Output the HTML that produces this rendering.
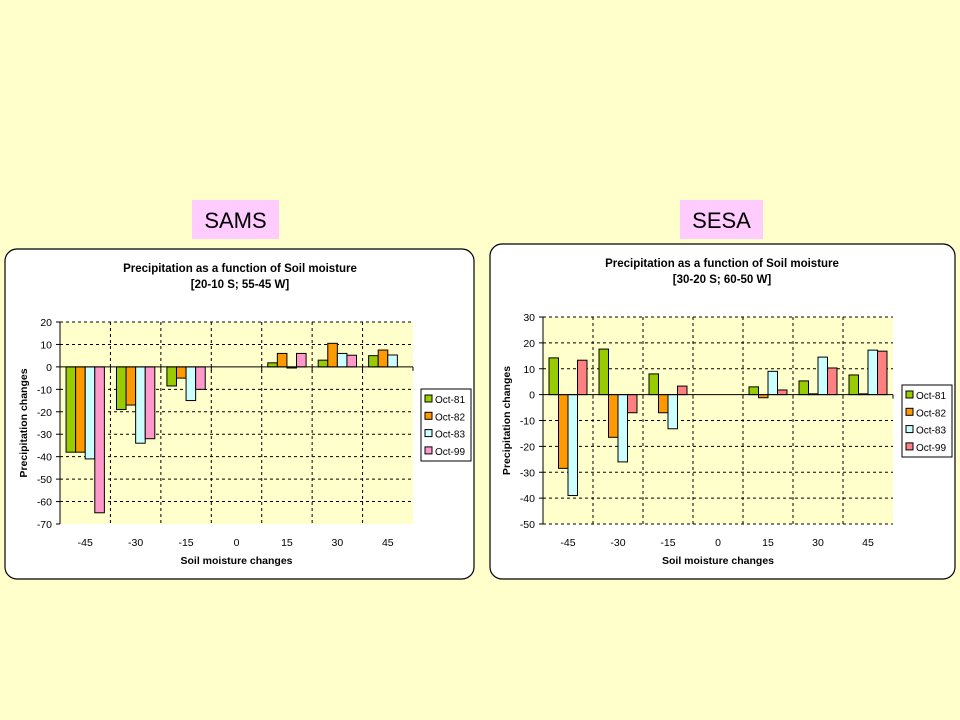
<!DOCTYPE html>
<html><head><meta charset="utf-8"><style>
html,body{margin:0;padding:0;background:#FFFFCC;}
svg{display:block;font-family:"Liberation Sans",Arial,sans-serif;}
</style></head><body>
<svg id="s" width="960" height="720" viewBox="0 0 960 720">
<rect x="0" y="0" width="960" height="720" fill="#FFFFCC"/>
<rect x="192" y="200" width="87" height="39" fill="#FFCCFF"/>
<text x="235.5" y="228" font-size="22" text-anchor="middle">SAMS</text>
<rect x="680" y="200" width="83" height="39" fill="#FFCCFF"/>
<text x="721.5" y="228" font-size="22" text-anchor="middle">SESA</text>
</svg>
<script>
const categories = ["-45","-30","-15","0","15","30","45"];
const seriesNames = ["Oct-81","Oct-82","Oct-83","Oct-99"];
const samsOct81 = [-38,-19,-8.5,0,1.8,3,5];
const samsOct82 = [-38,-17,-5,0,6,10.5,7.5];
const samsOct83 = [-41,-34,-15,0,-0.5,6,5.3];
const samsOct99 = [-65,-32,-10,0,6,5.2,0];
const samsTicks = [20,10,0,-10,-20,-30,-40,-50,-60,-70];
const sesaOct81 = [14.2,17.6,8,0,3,5.3,7.6];
const sesaOct82 = [-28.5,-16.5,-7,0,-1.2,0.3,0.3];
const sesaOct83 = [-39,-26,-13.2,0,9,14.5,17.2];
const sesaOct99 = [13.3,-7,3.3,0,1.8,10.3,16.8];
const sesaTicks = [30,20,10,0,-10,-20,-30,-40,-50];

const NS="http://www.w3.org/2000/svg";
const svg=document.getElementById('s');
function mk(tag,attrs,parent,text){const e=document.createElementNS(NS,tag);for(const k in attrs)e.setAttribute(k,attrs[k]);if(text!==undefined)e.textContent=text;(parent||svg).appendChild(e);return e;}

function chart(o){
  const g=mk('g',{});
  
  
  const p=mk('rect',{x:o.px,y:o.py,width:o.pw,height:o.ph,rx:12,fill:'#fff',stroke:'#000','stroke-width':1.2},g);
  
  
  const cx=o.px+o.pw*0.5-8;
  let t=mk('text',{x:o.tx,y:o.py+23,'font-size':11.5,'font-weight':'bold','text-anchor':'middle'},g,'Precipitation as a function of Soil moisture');
  
  
  t=mk('text',{x:o.tx,y:o.py+39,'font-size':11.5,'font-weight':'bold','text-anchor':'middle'},g,o.sub);
  
  
  const ymax=o.ticks[0],ymin=o.ticks[o.ticks.length-1];
  const Y=v=>o.y0+(ymax-v)/(ymax-ymin)*(o.y1-o.y0);
  const bw=(o.x1-o.x0)/categories.length;
  const X=i=>o.x0+i*bw;
  const pa=mk('rect',{x:o.x0,y:o.y0,width:o.x1-o.x0,height:o.y1-o.y0,fill:'#FFFFCC'},g);
  
  
  o.ticks.forEach(v=>{
    const y=Y(v);
    if(v!==0&&v!==ymin){const l=mk('line',{x1:o.x0,x2:o.x1,y1:y,y2:y,stroke:'#000','stroke-dasharray':'3,3','stroke-width':1},g);
      
      }
    if(v===ymin&&o.bottomGrid){const l=mk('line',{x1:o.x0,x2:o.x1,y1:y,y2:y,stroke:'#000','stroke-dasharray':'3,3'},g);
      
      }
    mk('line',{x1:o.x0-4,x2:o.x0,y1:y,y2:y,stroke:'#000'},g);
    const tl=mk('text',{x:o.x0-8,y:y+4,'font-size':10.5,'text-anchor':'end'},g,String(v));
    
    
  });
  for(let i=1;i<categories.length;i++){
    const l=mk('line',{x1:X(i),x2:X(i),y1:o.y0,y2:o.y1,stroke:'#000','stroke-dasharray':'3,3'},g);
    
    
  }
  const ax=mk('line',{x1:o.x0,x2:o.x0,y1:o.y0,y2:o.y1,stroke:'#000'},g);
  
  
  const bwid=bw*0.19,start=bw*0.12;
  o.series.forEach((s,si)=>{
    s.forEach((v,i)=>{
      if(v===0)return;
      const x=X(i)+start+si*bwid;
      const y=Math.min(Y(v),Y(0)),h=Math.abs(Y(v)-Y(0));
      const r=mk('rect',{x:x,y:y,width:bwid,height:Math.max(h,0.8),fill:o.colors[si],stroke:'#000','stroke-width':1},g);
      
      
    });
  });
  const za=mk('line',{x1:o.x0,x2:o.x1,y1:Y(0),y2:Y(0),stroke:'#000'},g);
  
  
  for(let i=0;i<=categories.length;i++) mk('line',{x1:X(i),x2:X(i),y1:Y(0),y2:Y(0)+4,stroke:'#000'},g);
  categories.forEach((c,i)=>{
    const tl=mk('text',{x:X(i)+bw/2,y:o.y1+22,'font-size':10.5,'text-anchor':'middle'},g,c);
    
    
  });
  t=mk('text',{x:(o.x0+o.x1)/2,y:o.y1+40,'font-size':10.5,'font-weight':'bold','text-anchor':'middle'},g,'Soil moisture changes');
  
  
  t=mk('text',{x:0,y:0,'font-size':10.5,'font-weight':'bold','text-anchor':'middle',transform:`translate(${o.x0-33},${(o.y0+o.y1)/2}) rotate(-90)`},g,'Precipitation changes');
  
  
  const lg=mk('g',{},g);
  
  
  mk('rect',{x:o.lx,y:o.ly,width:50,height:72,fill:'#fff',stroke:'#000'},lg);
  seriesNames.forEach((n,si)=>{
    const e=mk('g',{},lg);
    
    
    const yy=o.ly+10+si*17.3;
    mk('rect',{x:o.lx+4,y:yy-4,width:7,height:7,fill:o.colors[si],stroke:'#000'},e);
    mk('text',{x:o.lx+14,y:yy+4,'font-size':10},e,n);
  });
}
chart({name:'sams-chart',px:5,py:249,pw:469,ph:330,tx:240,sub:'[20-10 S; 55-45 W]',x0:60,x1:413,y0:322,y1:524,ticks:samsTicks,
  series:[samsOct81,samsOct82,samsOct83,samsOct99],colors:['#99CC00','#FF9900','#CCFFFF','#FF99CC'],lx:421,ly:389,bottomGrid:false});
chart({name:'sesa-chart',px:490,py:244,pw:465,ph:335,tx:722,sub:'[30-20 S; 60-50 W]',x0:543,x1:893,y0:317,y1:524,ticks:sesaTicks,
  series:[sesaOct81,sesaOct82,sesaOct83,sesaOct99],colors:['#99CC00','#FF9900','#CCFFFF','#FF8080'],lx:902,ly:385,bottomGrid:true});
</script>
</body></html>
